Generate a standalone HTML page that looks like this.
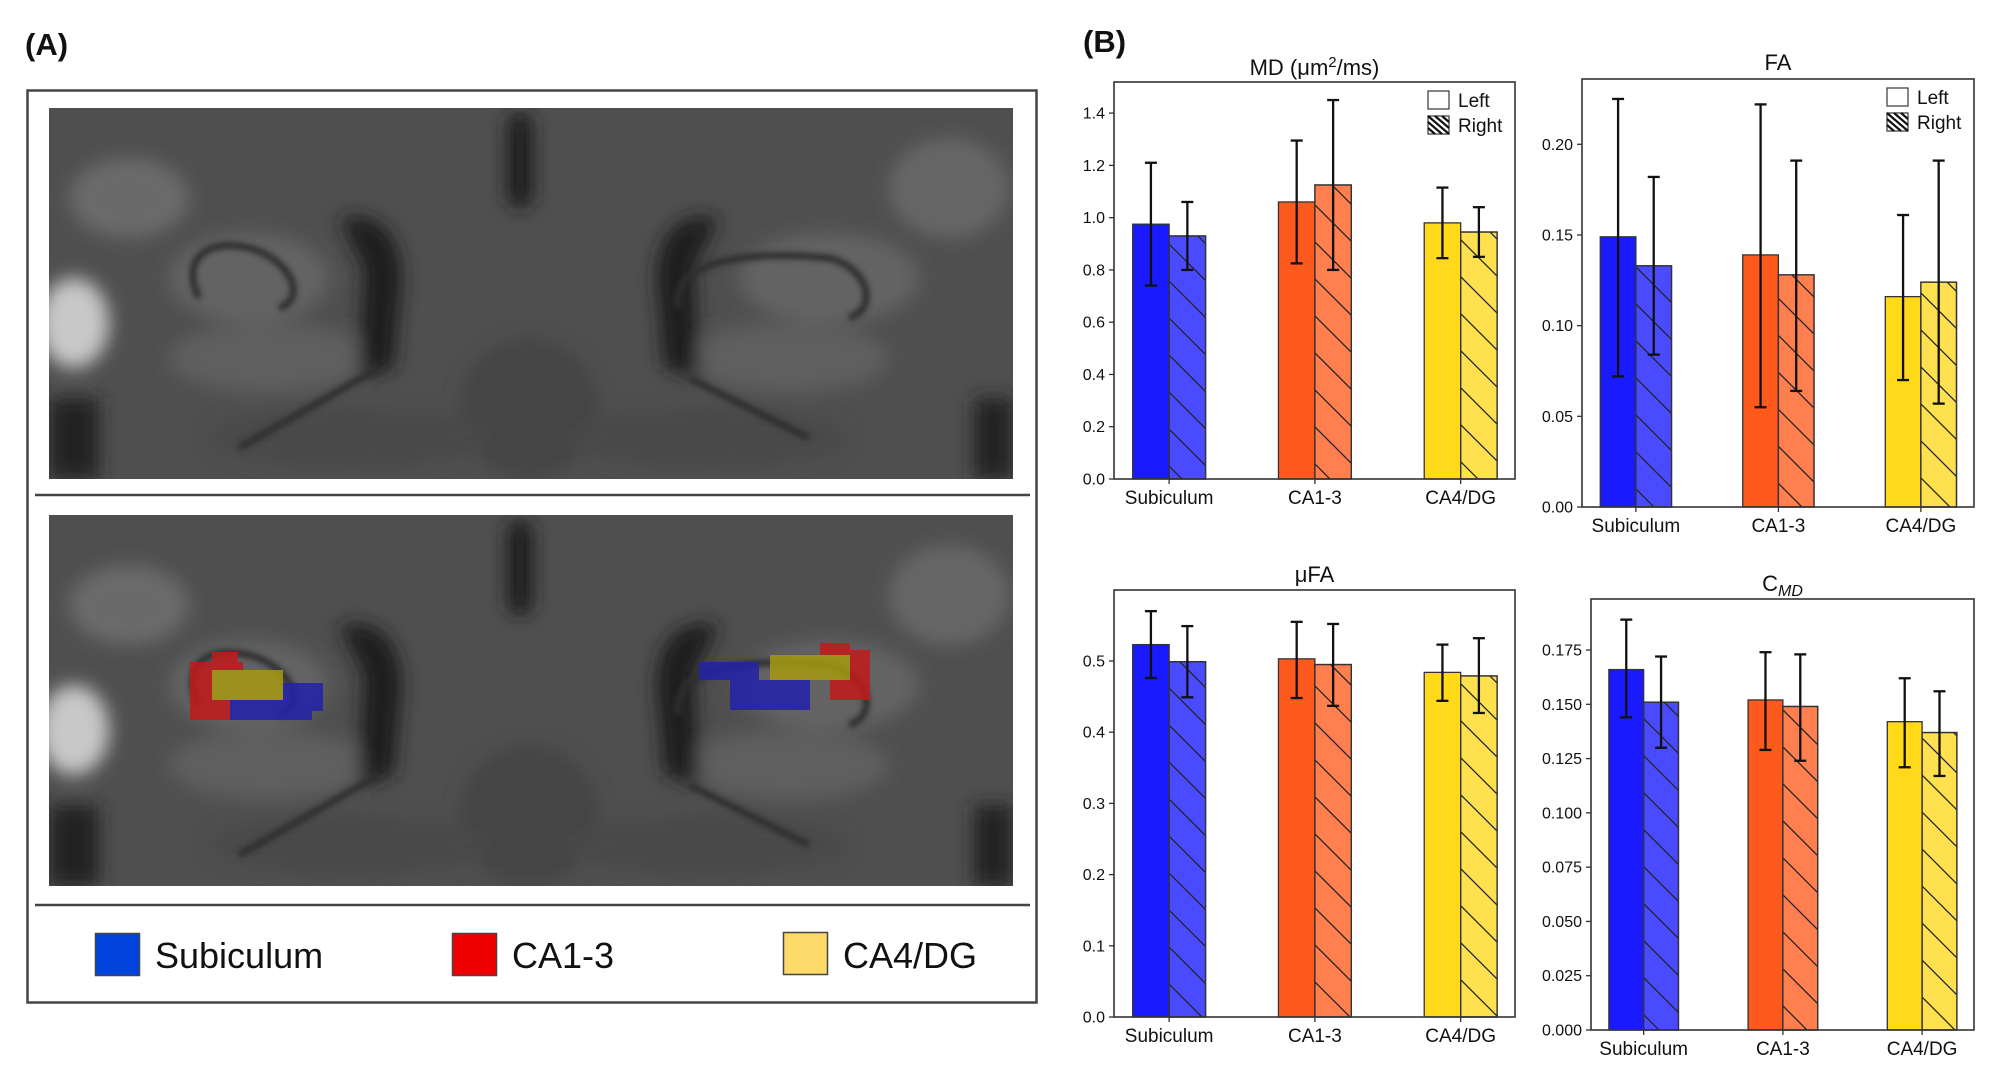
<!DOCTYPE html>
<html><head><meta charset="utf-8"><style>
html,body{margin:0;padding:0;background:#fff}
svg text{font-family:"Liberation Sans",sans-serif;fill:#111}
</style></head><body>
<svg id="fig" width="1993" height="1081" viewBox="0 0 1993 1081" xmlns="http://www.w3.org/2000/svg">
<defs>
<pattern id="hatch" patternUnits="userSpaceOnUse" width="37" height="37">
<path d="M-1,-1 L38,38 M-38,-1 L1,38 M36,-1 L75,38" stroke="#222" stroke-width="1.3"/>
</pattern>
<filter id="blur" x="-20%" y="-20%" width="140%" height="140%"><feGaussianBlur stdDeviation="9"/></filter>
<filter id="blur2"><feGaussianBlur stdDeviation="3"/></filter>
<clipPath id="imgclip"><rect x="0" y="0" width="964" height="371"/></clipPath>
<g id="mri">
<g clip-path="url(#imgclip)">
<rect x="0" y="0" width="964" height="371" fill="#4f4f4f"/>
<g filter="url(#blur)">
<ellipse cx="80" cy="90" rx="60" ry="40" fill="#6a6a6a"/>
<ellipse cx="900" cy="80" rx="60" ry="50" fill="#666"/>
<ellipse cx="25" cy="215" rx="35" ry="45" fill="#c8c8c8"/>
<rect x="0" y="290" width="50" height="81" fill="#222"/>
<rect x="925" y="290" width="39" height="81" fill="#222"/>
<ellipse cx="200" cy="170" rx="80" ry="45" fill="#646464"/>
<ellipse cx="780" cy="170" rx="90" ry="45" fill="#646464"/>
<ellipse cx="220" cy="250" rx="100" ry="35" fill="#5e5e5e"/>
<ellipse cx="740" cy="250" rx="100" ry="35" fill="#5e5e5e"/>
<path d="M290,110 C340,100 360,140 350,200 L345,260 L310,270 L315,160 Z" fill="#1e1e1e"/>
<path d="M670,110 C620,100 600,140 610,200 L615,260 L650,270 L645,160 Z" fill="#1e1e1e"/>
<rect x="458" y="5" width="26" height="95" rx="12" fill="#1e1e1e"/>
<ellipse cx="480" cy="300" rx="70" ry="70" fill="#454545"/>
<ellipse cx="300" cy="330" rx="140" ry="30" fill="#484848"/>
<ellipse cx="660" cy="330" rx="140" ry="30" fill="#484848"/>
</g>
<g filter="url(#blur2)" fill="none" stroke="#2e2e2e" stroke-width="7">
<path d="M150,190 C130,150 160,130 200,140 C240,150 260,190 230,200"/>
<path d="M630,200 C620,160 680,140 780,150 C820,160 830,200 800,210"/>
<path d="M190,340 L330,260"/>
<path d="M640,270 L760,330"/>
</g>
</g>
</g>
</defs>

<text x="25" y="55" font-size="31" font-weight="bold">(A)</text>
<text x="1083" y="52" font-size="31" font-weight="bold">(B)</text>

<g>
<rect x="27.5" y="90.5" width="1009" height="912" fill="none" stroke="#444" stroke-width="2.5"/>
<use href="#mri" x="49" y="108"/>
<line x1="35" y1="495" x2="1030" y2="495" stroke="#444" stroke-width="2.5"/>
<use href="#mri" x="49" y="515"/>
<g opacity="0.85">
<rect x="190" y="662" width="53" height="58" fill="#c41a1a"/>
<rect x="212" y="652" width="26" height="14" fill="#c41a1a"/>
<rect x="212" y="670" width="71" height="30" fill="#a59a10"/>
<rect x="230" y="700" width="82" height="20" fill="#2222aa"/>
<rect x="283" y="683" width="40" height="28" fill="#2222aa"/>
<rect x="699" y="662" width="60" height="18" fill="#2222aa"/>
<rect x="730" y="680" width="80" height="30" fill="#2222aa"/>
<rect x="770" y="655" width="80" height="25" fill="#a59a10"/>
<rect x="850" y="650" width="20" height="50" fill="#c41a1a"/>
<rect x="820" y="643" width="30" height="12" fill="#c41a1a"/>
<rect x="830" y="680" width="25" height="20" fill="#c41a1a"/>
</g>
<line x1="35" y1="905" x2="1030" y2="905" stroke="#444" stroke-width="2.5"/>
<g>
<rect x="95.5" y="933.5" width="44" height="42" fill="#0044dd" stroke="#444" stroke-width="1.5"/>
<text x="155" y="968" font-size="36">Subiculum</text></g>
<g>
<rect x="452.5" y="933.5" width="44" height="42" fill="#ee0000" stroke="#444" stroke-width="1.5"/>
<text x="512" y="968" font-size="36">CA1-3</text></g>
<g>
<rect x="783.5" y="932.5" width="44" height="42" fill="#fdd96a" stroke="#444" stroke-width="1.5"/>
<text x="843" y="968" font-size="36">CA4/DG</text></g>
</g>
<g id="charts"></g>
</svg>
<script>
const categories = ["Subiculum", "CA1-3", "CA4/DG"];
// MD
const mdLeft = [0.975, 1.06, 0.98];
const mdRight = [0.93, 1.125, 0.945];
const mdLeftLo = [0.74, 0.825, 0.845];
const mdLeftHi = [1.21, 1.295, 1.115];
const mdRightLo = [0.80, 0.80, 0.85];
const mdRightHi = [1.06, 1.45, 1.04];
const mdTicks = ["0.0","0.2","0.4","0.6","0.8","1.0","1.2","1.4"];
// FA
const faLeft = [0.149, 0.139, 0.116];
const faRight = [0.133, 0.128, 0.124];
const faLeftLo = [0.072, 0.055, 0.070];
const faLeftHi = [0.225, 0.222, 0.161];
const faRightLo = [0.084, 0.064, 0.057];
const faRightHi = [0.182, 0.191, 0.191];
const faTicks = ["0.00","0.05","0.10","0.15","0.20"];
// uFA
const ufaLeft = [0.523, 0.503, 0.484];
const ufaRight = [0.499, 0.495, 0.479];
const ufaLeftLo = [0.476, 0.448, 0.444];
const ufaLeftHi = [0.570, 0.555, 0.523];
const ufaRightLo = [0.449, 0.437, 0.427];
const ufaRightHi = [0.549, 0.552, 0.532];
const ufaTicks = ["0.0","0.1","0.2","0.3","0.4","0.5"];
// CMD
const cmdLeft = [0.166, 0.152, 0.142];
const cmdRight = [0.151, 0.149, 0.137];
const cmdLeftLo = [0.144, 0.129, 0.121];
const cmdLeftHi = [0.189, 0.174, 0.162];
const cmdRightLo = [0.130, 0.124, 0.117];
const cmdRightHi = [0.172, 0.173, 0.156];
const cmdTicks = ["0.000","0.025","0.050","0.075","0.100","0.125","0.150","0.175"];

const leftColors = ["#1a1aff", "#ff5a1e", "#ffd91a"];
const rightColors = ["#4a4aff", "#ff7f4f", "#ffe14f"];
const NS = "http://www.w3.org/2000/svg";
const root = document.getElementById("charts");
function mk(tag, attrs, parent){ const e=document.createElementNS(NS,tag); for(const k in attrs) e.setAttribute(k,attrs[k]); parent.appendChild(e); return e; }

function chart(name, box, ymax, ticks, L, R, LLo, LHi, RLo, RHi, title, titleY, legend){
  const g = mk("g", {}, root);
  
  
  const x0=box[0], y0=box[1], x1=box[2], y1=box[3], W=x1-x0;
  const y = v => y1 - v/ymax*(y1-y0);
  const spacing = W*0.3635, first = W*0.1375, bw = spacing*0.25;
  const cx = i => x0 + first + i*spacing;
  const t = mk("text", {x:(x0+x1)/2, y:titleY, "font-size":22, "text-anchor":"middle"}, g);
  
  
  t.innerHTML = title;
  categories.forEach((c,i)=>{
    const lb = mk("rect", {x:cx(i)-bw, y:y(L[i]), width:bw, height:y1-y(L[i]), fill:leftColors[i], stroke:"#333", "stroke-width":1.3}, g);
    
    
    const rb = mk("rect", {x:cx(i), y:y(R[i]), width:bw, height:y1-y(R[i]), fill:rightColors[i], stroke:"#333", "stroke-width":1.3}, g);
    
    
    const hb = mk("rect", {x:cx(i), y:y(R[i]), width:bw, height:y1-y(R[i]), fill:"url(#hatch)", stroke:"#333", "stroke-width":1.3}, g);
    
    
    [[cx(i)-bw/2, LLo[i], LHi[i], 'left'], [cx(i)+bw/2, RLo[i], RHi[i], 'right']].forEach(e=>{
      const eg = mk("g", {stroke:"#111", "stroke-width":2.3}, g);
      
      
      mk("line", {x1:e[0], x2:e[0], y1:y(e[1]), y2:y(e[2])}, eg);
      mk("line", {x1:e[0]-6, x2:e[0]+6, y1:y(e[1]), y2:y(e[1])}, eg);
      mk("line", {x1:e[0]-6, x2:e[0]+6, y1:y(e[2]), y2:y(e[2])}, eg);
    });
    mk("line", {x1:cx(i), x2:cx(i), y1:y1, y2:y1+5, stroke:"#333", "stroke-width":1.3}, g);
    const lab = mk("text", {x:cx(i), y:y1+25, "font-size":19, "text-anchor":"middle"}, g);
    
    
    lab.textContent = c;
  });
  const fr = mk("rect", {x:x0, y:y0, width:W, height:y1-y0, fill:"none", stroke:"#333", "stroke-width":1.6}, g);
  
  
  ticks.forEach(tk=>{
    const v = parseFloat(tk), ty = y(v);
    mk("line", {x1:x0-5, x2:x0, y1:ty, y2:ty, stroke:"#333", "stroke-width":1.3}, g);
    const tl = mk("text", {x:x0-9, y:ty+5.5, "font-size":16, "text-anchor":"end"}, g);
    
    
    tl.textContent = tk;
  });
  if(legend){
    const lg = mk("g", {}, g);
    
    
    const lx = x1-87, ly = y0+9;
    mk("rect", {x:lx, y:ly, width:21, height:18, fill:"#fff", stroke:"#444", "stroke-width":1.3}, lg);
    const t1 = mk("text", {x:lx+30, y:ly+16, "font-size":19}, lg); t1.textContent = "Left";
    mk("rect", {x:lx, y:ly+25, width:21, height:18, fill:"#fff", stroke:"#444", "stroke-width":1.3}, lg);
    mk("path", {d:`M${lx},${ly+25} L${lx+21},${ly+43} M${lx+7},${ly+25} L${lx+21},${ly+37} M${lx+14},${ly+25} L${lx+21},${ly+31} M${lx},${ly+31} L${lx+14},${ly+43} M${lx},${ly+37} L${lx+7},${ly+43}`, stroke:"#111", "stroke-width":2.2}, lg);
    const t2 = mk("text", {x:lx+30, y:ly+41, "font-size":19}, lg); t2.textContent = "Right";
  }
}
chart("md", [1114,82,1515,479], 1.519, mdTicks, mdLeft, mdRight, mdLeftLo, mdLeftHi, mdRightLo, mdRightHi, 'MD (μm<tspan dy="-8" font-size="15">2</tspan><tspan dy="8">/ms)</tspan>', 75, true);
chart("fa", [1582,79,1974,507], 0.236, faTicks, faLeft, faRight, faLeftLo, faLeftHi, faRightLo, faRightHi, 'FA', 70, true);
chart("ufa", [1114,590,1515,1017], 0.5997, ufaTicks, ufaLeft, ufaRight, ufaLeftLo, ufaLeftHi, ufaRightLo, ufaRightHi, 'μFA', 582, false);
chart("cmd", [1591,599,1974,1030], 0.1985, cmdTicks, cmdLeft, cmdRight, cmdLeftLo, cmdLeftHi, cmdRightLo, cmdRightHi, 'C<tspan dy="5" font-size="16" font-style="italic">MD</tspan>', 591, false);
</script>
</body></html>
